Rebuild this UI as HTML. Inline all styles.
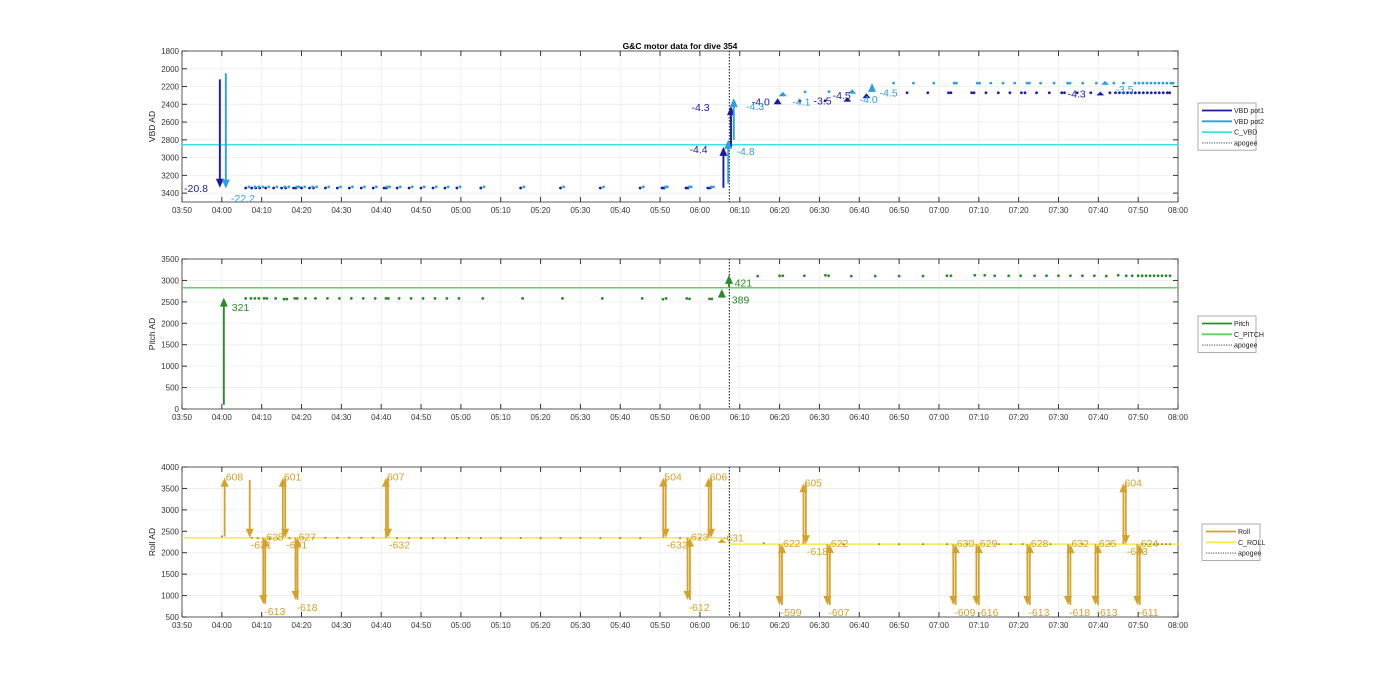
<!DOCTYPE html>
<html><head><meta charset="utf-8"><style>
body{margin:0;background:#fff;}
svg{display:block;font-family:"Liberation Sans",sans-serif;}
</style></head><body>
<svg id="fig" width="1400" height="693" viewBox="0 0 1400 693">
<rect width="1400" height="693" fill="#fff"/>
<text x="680" y="49" font-size="8.5" font-weight="bold" text-anchor="middle" fill="#000">G&amp;C motor data for dive 354</text>
</svg>
<script>
// ---------- data (time = minutes after 03:50) ----------
const xTickLabels = ["03:50","04:00","04:10","04:20","04:30","04:40","04:50","05:00","05:10","05:20","05:30","05:40","05:50","06:00","06:10","06:20","06:30","06:40","06:50","07:00","07:10","07:20","07:30","07:40","07:50","08:00"];
const apogeeT = 137.4;

const vbdTicks = [1800,2000,2200,2400,2600,2800,3000,3200,3400];
const cVbd = 2855;
const pot1DotT = [16,17.5,18.5,19.5,21,23,25,26,28,28.6,30,32,33,36,39,42,45,48,50.7,51.3,54,57,60,63,66,69,75,85,95,105,115,120.5,121,126.5,127,132,132.6,155.1,161.4,182,187.2,192.4,193,198.2,198.8,201.8,204.9,207.8,210.7,211.6,214.5,217.7,220.8,221.5,224.7,228.1,232.9,234.3,235.3,236.3,237.3,238.3,239.3,240.3,241.3,242.3,243.3,244.3,245.3,246.3,247.3,247.9];
const pot1DotV = [3343,3343,3343,3343,3343,3343,3343,3343,3343,3343,3343,3343,3343,3343,3343,3343,3343,3343,3343,3343,3343,3343,3343,3343,3343,3343,3343,3343,3343,3343,3343,3343,3343,3343,3343,3343,3343,2364,2360,2270,2270,2270,2270,2270,2270,2270,2270,2270,2270,2270,2270,2270,2270,2270,2270,2270,2270,2270,2270,2270,2270,2270,2270,2270,2270,2270,2270,2270,2270,2270,2270,2270];
const pot2DotT = [16.8,18.3,19.3,20.3,21.8,23.8,25.8,26.8,28.8,29.4,30.8,32.8,33.8,36.8,39.8,42.8,45.8,48.8,51.5,52.1,54.8,57.8,60.8,63.8,66.8,69.8,75.8,85.8,95.8,105.8,115.8,121.3,121.8,127.3,127.8,132.8,133.4,156.4,162.4,178.6,183.6,188.7,193.8,194.4,199.6,200.2,203,206.1,209,212.1,212.7,215.5,218.9,222.3,222.9,226.1,229.5,233.9,236.3,239.2,240.2,241.2,242.2,243.2,244.2,245.2,246.2,247.2,248.2,248.8];
const pot2DotV = [3330,3330,3330,3330,3330,3330,3330,3330,3330,3330,3330,3330,3330,3330,3330,3330,3330,3330,3330,3330,3330,3330,3330,3330,3330,3330,3330,3330,3330,3330,3330,3330,3330,3330,3330,3330,3330,2260,2257,2162,2162,2162,2162,2162,2162,2162,2162,2162,2162,2162,2162,2162,2162,2162,2162,2162,2162,2162,2162,2162,2162,2162,2162,2162,2162,2162,2162,2162,2162,2162];
const pot1ArrowT = [9.5,135.9,137.8,149.5,167,171.8,230.5];
const pot1ArrowFrom = [2120,3340,2880,2400,2370,2330,2300];
const pot1ArrowTo = [3340,2880,2420,2330,2322,2276,2257];
const pot2ArrowT = [11,137.1,138.5,150.8,168.2,173.2,231.7];
const pot2ArrowFrom = [2050,3290,2800,2310,2280,2260,2180];
const pot2ArrowTo = [3350,2800,2330,2257,2230,2162,2135];
const vbdLabelT = [0.5,127.4,127.9,143,158.5,163.3,222.3, 12.3,139.2,141.6,153.2,170.1,175.1,234.3];
const vbdLabelV = [3343,2905,2429,2371,2360,2295,2276, 3457,2924,2417,2371,2341,2269,2230];
const vbdLabelText = ["-20.8","-4.4","-4.3","-4.0","-3.5","-4.5","-4.3", "-22.2","-4.8","-4.3","-4.1","-4.0","-4.5","-3.5"];
const vbdLabelSeries = [1,1,1,1,1,1,1,2,2,2,2,2,2,2];

const pitchTicks = [0,500,1000,1500,2000,2500,3000,3500];
const cPitch = 2830;
const pitchDotT = [16,17.3,18.3,19.3,20.6,21.3,23.5,25.6,26.3,28.3,28.9,31,33.5,36.5,39.5,42.5,45.5,48.5,51.2,51.8,54.5,57.5,60.5,63.5,66.5,69.5,75.5,85.5,95.5,105.5,115.5,120.7,121.5,126.7,127.4,132.4,133,144.5,150,150.8,156.2,161.5,162.3,168,174,180,186,192,193,199,201.5,204,207.5,210.5,214,217,220,223,226,229,232,235,237,238.5,240,241,242,243,244,245,246,247,248];
const pitchDotV = [2580,2580,2580,2580,2580,2580,2580,2565,2565,2580,2580,2580,2580,2580,2580,2580,2580,2580,2580,2580,2580,2580,2580,2580,2580,2580,2580,2580,2580,2580,2580,2560,2580,2580,2570,2570,2570,3100,3110,3110,3110,3120,3110,3100,3100,3100,3100,3110,3110,3120,3120,3110,3110,3110,3110,3110,3110,3110,3110,3110,3100,3120,3110,3110,3110,3110,3110,3110,3110,3110,3110,3110,3110];
const pitchArrowT = [10.5,135.5,137.3];
const pitchArrowFrom = [100,2600,2850];
const pitchArrowTo = [2600,2800,3130];
const pitchLabelT = [12.5,138,138.7];
const pitchLabelV = [2380,2560,2950];
const pitchLabelText = ["321","389","421"];

const rollTicks = [500,1000,1500,2000,2500,3000,3500,4000];
const cRollBefore = 2350, cRollAfter = 2200;
const rollDotT = [10,17.5,19,22,24,27,30.5,33,36,39,42,45,48,54,57,60,63,66,69,72,75,80,85,90,95,100,105,110,115,125,130,146,166,175,180,186,192,197,205,208,211,218,226,233,241,242,243,244,245,246,247,248];
const rollDotV = [2380,2350,2340,2330,2330,2340,2350,2350,2350,2350,2350,2350,2350,2340,2340,2340,2340,2340,2340,2340,2340,2340,2340,2340,2340,2340,2340,2340,2340,2340,2340,2220,2200,2200,2200,2200,2200,2200,2200,2200,2200,2200,2200,2200,2200,2200,2200,2200,2200,2200,2200,2200];
const rollArrowT = [10.7,17,20.4,20.9,25.3,25.9,28.5,29.0,51.2,51.7,120.8,121.4,126.9,127.5,132.2,132.8,135.5,150,150.6,156,156.6,162,162.6,193.6,194.2,199.4,200,212.2,212.8,222.4,223,229.3,229.9,236.3,236.9,239.8,240.4];
const rollArrowFrom = [2380,3700,2350,800,2350,3750,2350,900,2350,3750,2350,3750,2350,900,2350,3750,2230,2200,780,2200,3620,2200,780,2200,780,2200,780,2200,780,2200,780,2200,780,2200,3620,2200,780];
const rollArrowTo = [3750,2350,800,2350,3750,2350,900,2350,3750,2350,3750,2350,900,2350,3750,2350,2330,780,2200,3620,2200,780,2200,780,2200,780,2200,780,2200,780,2200,780,2200,3620,2200,780,2200];
const rollArrowLabel = ["608","-631","-613","625","601","-631","-618","627","607","-632","504","-632","-612","623","606","","-631","-599","622","605","-618","-607","622","-609","630","-616","629","-613","628","-618","632","-613","625","604","-633","-611","624"];

// ---------- drawing ----------
const svg = document.getElementById('fig');
const NS = 'http://www.w3.org/2000/svg';
const X0 = 182, X1 = 1178, TMAX = 250;
const xScale = t => X0 + t / TMAX * (X1 - X0);
function mk(tag, attrs, parent) {
  const e = document.createElementNS(NS, tag);
  for (const k in attrs) e.setAttribute(k, attrs[k]);
  (parent || svg).appendChild(e);
  return e;
}
function panel(name, top, bottom, vmin, vmax, reversed, ticks, ylabel) {
  const g = mk('g', {});
  
  
  const y = v => reversed ? top + (v - vmin) / (vmax - vmin) * (bottom - top) : bottom - (v - vmin) / (vmax - vmin) * (bottom - top);
  mk('rect', {x: X0, y: top, width: X1 - X0, height: bottom - top, fill: '#fff'}, g);
  const grid = mk('g', {stroke: '#ececec', 'stroke-width': 0.8}, g);
  
  
  xTickLabels.forEach((lab, i) => {
    const x = xScale(i * 10);
    mk('line', {x1: x, x2: x, y1: top, y2: bottom}, grid);
    mk('line', {x1: x, x2: x, y1: bottom, y2: bottom - 5, stroke: '#333'}, g);
    mk('line', {x1: x, x2: x, y1: top, y2: top + 5, stroke: '#333'}, g);
    const t = mk('text', {x: x, y: bottom + 11, 'font-size': 8, 'text-anchor': 'middle', fill: '#333'}, g);
    t.textContent = lab;
    
    
  });
  ticks.forEach(v => {
    const yy = y(v);
    mk('line', {x1: X0, x2: X1, y1: yy, y2: yy}, grid);
    mk('line', {x1: X0, x2: X0 + 5, y1: yy, y2: yy, stroke: '#333'}, g);
    mk('line', {x1: X1, x2: X1 - 5, y1: yy, y2: yy, stroke: '#333'}, g);
    const t = mk('text', {x: X0 - 3, y: yy + 3, 'font-size': 8, 'text-anchor': 'end', fill: '#333'}, g);
    t.textContent = v;
    
    
  });
  mk('rect', {x: X0, y: top, width: X1 - X0, height: bottom - top, fill: 'none', stroke: '#333', 'stroke-width': 0.8}, g);
  const yl = mk('text', {x: 0, y: 0, 'font-size': 8.5, 'text-anchor': 'middle', fill: '#222', transform: `translate(${X0 - 27},${(top + bottom) / 2}) rotate(-90)`}, g);
  yl.textContent = ylabel;
  
  
  return {g, y, top, bottom};
}
function hline(p, v, t0, t1, color, name) {
  const l = mk('line', {x1: xScale(t0), x2: xScale(t1), y1: p.y(v), y2: p.y(v), stroke: color, 'stroke-width': 1.5}, p.g);
  
  
}
function apogee(p, name) {
  const l = mk('line', {x1: xScale(apogeeT), x2: xScale(apogeeT), y1: p.top, y2: p.bottom, stroke: '#333', 'stroke-width': 1.2, 'stroke-dasharray': '1.5,1.5'}, p.g);
  
  
}
function dots(p, ts, vs, color, name, r) {
  ts.forEach((t, i) => {
    const c = mk('circle', {cx: xScale(t), cy: p.y(vs[i]), r: r || 1.4, fill: color}, p.g);
    
    
  });
}
function arrow(p, t, v0, v1, color, name, w) {
  const x = xScale(t), y0 = p.y(v0), y1 = p.y(v1);
  const dir = y1 > y0 ? 1 : -1;
  const g = mk('g', {}, p.g);
  
  
  const hl = Math.min(9, Math.abs(y1 - y0));
  mk('line', {x1: x, x2: x, y1: y0, y2: y1 - dir * hl * 0.6, stroke: color, 'stroke-width': w || 1.9}, g);
  mk('polygon', {points: `${x - 4},${y1 - dir * hl} ${x + 4},${y1 - dir * hl} ${x},${y1}`, fill: color}, g);
}
function label(p, t, v, text, color, name, dx, dy) {
  const e = mk('text', {x: xScale(t) + (dx || 0), y: p.y(v) + (dy || 0), 'font-size': 10.5, fill: color}, p.g);
  e.textContent = text;
  
  
}
function legend(x, y, w, entries, name) {
  const g = mk('g', {});
  
  
  mk('rect', {x: x, y: y, width: w, height: entries.length * 10.8 + 4, fill: '#fff', stroke: '#999', 'stroke-width': 0.8}, g);
  entries.forEach((en, i) => {
    const yy = y + 7.5 + i * 10.8;
    const item = mk('g', {}, g);
    
    
    mk('line', {x1: x + 4, x2: x + 34, y1: yy, y2: yy, stroke: en[1], 'stroke-width': en[2] ? 0.9 : 1.8, 'stroke-dasharray': en[2] ? '1.2,1.2' : 'none'}, item);
    const t = mk('text', {x: x + 36, y: yy + 2.5, 'font-size': 7, fill: '#222'}, item);
    t.textContent = en[0];
  });
}

const C1 = '#1a1aa6', C2 = '#2c9fe0', CV = '#3fe0e6';
const CP = '#2b8a2b', CCP = '#5cd65c', CR = '#d4a22a', CCR = '#f7ea45';

// VBD panel
const pv = panel('vbd', 51, 202, 1800, 3500, true, vbdTicks, 'VBD AD');
hline(pv, cVbd, 0, TMAX, CV, 'c-vbd-line');
apogee(pv, 'vbd-apogee-line');
dots(pv, pot1DotT, pot1DotV, C1, 'vbd-pot1-point');
dots(pv, pot2DotT, pot2DotV, C2, 'vbd-pot2-point');
pot1ArrowT.forEach((t, i) => arrow(pv, t, pot1ArrowFrom[i], pot1ArrowTo[i], C1, 'vbd-pot1-arrow'));
pot2ArrowT.forEach((t, i) => arrow(pv, t, pot2ArrowFrom[i], pot2ArrowTo[i], C2, 'vbd-pot2-arrow'));
vbdLabelT.forEach((t, i) => label(pv, t, vbdLabelV[i], vbdLabelText[i], vbdLabelSeries[i] === 1 ? C1 : C2, 'vbd-move-label', 0, 4));
legend(1198, 103, 58, [['VBD pot1', C1], ['VBD pot2', C2], ['C_VBD', CV], ['apogee', '#333', true]], 'vbd-legend');

// Pitch panel
const pp = panel('pitch', 259, 409, 0, 3500, false, pitchTicks, 'Pitch AD');
hline(pp, cPitch, 0, TMAX, CCP, 'c-pitch-line');
apogee(pp, 'pitch-apogee-line');
dots(pp, pitchDotT, pitchDotV, CP, 'pitch-point');
pitchArrowT.forEach((t, i) => arrow(pp, t, pitchArrowFrom[i], pitchArrowTo[i], CP, 'pitch-arrow'));
pitchLabelT.forEach((t, i) => label(pp, t, pitchLabelV[i], pitchLabelText[i], CP, 'pitch-move-label', 0, 4));
legend(1198, 316, 58, [['Pitch', CP], ['C_PITCH', CCP], ['apogee', '#333', true]], 'pitch-legend');

// Roll panel
const pr = panel('roll', 467, 617, 500, 4000, false, rollTicks, 'Roll AD');
hline(pr, cRollBefore, 0, apogeeT, CCR, 'c-roll-line-descent');
hline(pr, cRollAfter, apogeeT, TMAX, CCR, 'c-roll-line-ascent');
apogee(pr, 'roll-apogee-line');
dots(pr, rollDotT, rollDotV, '#a08030', 'roll-point', 1.0);
rollArrowT.forEach((t, i) => {
  arrow(pr, t, rollArrowFrom[i], rollArrowTo[i], CR, 'roll-arrow', 1.8);
  const up = rollArrowTo[i] > rollArrowFrom[i];
  if (rollArrowLabel[i]) label(pr, t, rollArrowTo[i], rollArrowLabel[i], CR, 'roll-move-label', 1, up ? 3 : 11);
});
legend(1202, 524, 58, [['Roll', CR], ['C_ROLL', CCR], ['apogee', '#333', true]], 'roll-legend');
</script>
</body></html>
